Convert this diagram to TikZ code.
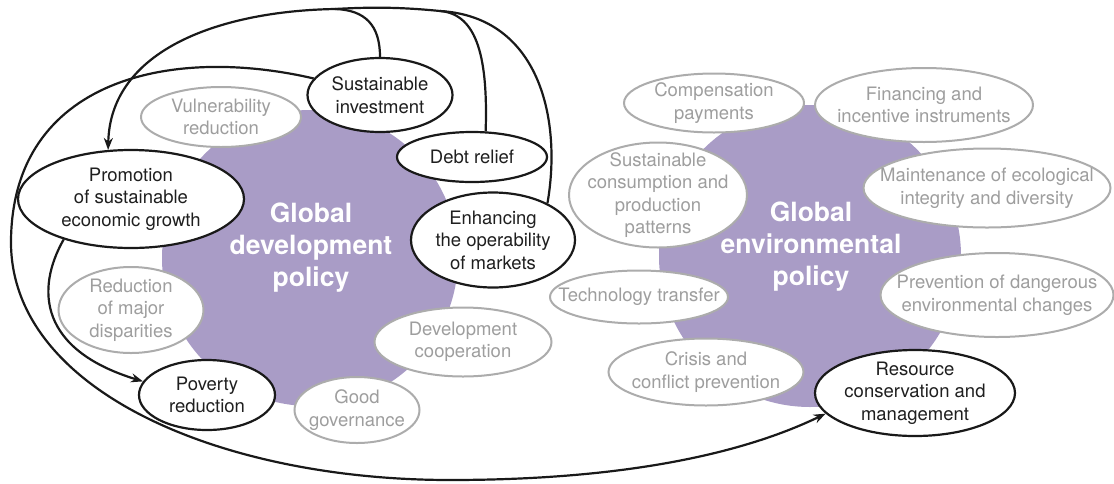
\documentclass[tikz,border=0pt]{standalone}
\usepackage{fontspec}
\setmainfont{TeX Gyre Heros}
\usetikzlibrary{arrows.meta, shapes.geometric}

\definecolor{policyviolet}{RGB}{169,156,198}
\definecolor{aimgray}{RGB}{172,172,172}
\definecolor{aimtext}{RGB}{158,158,158}

\begin{document}
\begin{tikzpicture}[x=1pt, y=-1pt, >={Stealth[length=12pt, width=9pt]},
    tag/.style={align=center, font=\fontsize{18.5}{22.5}\selectfont},
    goal/.style={ellipse, draw=black!90, line width=2.2pt, fill=white, inner sep=0pt,
      label={[tag, text=black!88]center:{#1}}},
    aim/.style={ellipse, draw=aimgray, line width=2pt, fill=white, inner sep=0pt,
      label={[tag, text=aimtext]center:{#1}}},
    title/.style={align=center, text=white, font=\fontsize{26.5}{32}\selectfont\bfseries},
    link/.style={line width=2.2pt, black!90}]
    \useasboundingbox (0,0) rectangle (1114,483);

    % Policy areas
    \fill[policyviolet] (310,258) circle (148pt);
    \fill[policyviolet] (810,256) circle (151pt);
    \node[title] (dev) at (311,248) {Global\\development\\policy};
    \node[title] (env) at (811,247) {Global\\environmental\\policy};

    % Development policy goals
    \node[goal={Sustainable\\investment}, minimum width=145, minimum height=74] (si) at (380,95) {};
    \node[goal={Debt relief}, minimum width=150, minimum height=50] (dr) at (472,157) {};
    \node[goal={Enhancing\\the operability\\of markets}, minimum width=164, minimum height=95] (mkt) at (493,240) {};
    \node[goal={Promotion\\of sustainable\\economic growth}, minimum width=226, minimum height=98] (prom) at (131,199) {};
    \node[goal={Poverty\\reduction}, minimum width=136, minimum height=70] (pov) at (207,395) {};
    \node[aim={Vulnerability\\reduction}, minimum width=160, minimum height=60] (vul) at (221,117) {};
    \node[aim={Reduction\\of major\\disparities}, minimum width=145, minimum height=86] (red) at (131,310) {};
    \node[aim={Good\\governance}, minimum width=125, minimum height=66] (gov) at (357,410) {};
    \node[aim={Development\\cooperation}, minimum width=177, minimum height=69] (coop) at (463,342) {};

    % Environmental policy goals
    \node[aim={Compensation\\payments}, minimum width=180, minimum height=59] (comp) at (714,103) {};
    \node[aim={Financing and\\incentive instruments}, minimum width=218, minimum height=74] (fin) at (924,105) {};
    \node[aim={Sustainable\\consumption and\\production\\patterns}, minimum width=178, minimum height=105] (scp) at (658,195) {};
    \node[aim={Maintenance of ecological\\integrity and diversity}, minimum width=247, minimum height=79] (eco) at (987,188) {};
    \node[aim={Technology transfer}, minimum width=178, minimum height=53] (tech) at (639,297) {};
    \node[aim={Prevention of dangerous\\environmental changes}, minimum width=233, minimum height=84] (prev) at (997,295) {};
    \node[aim={Crisis and\\conflict prevention}, minimum width=195, minimum height=67] (cris) at (706,372) {};
    \node[goal={Resource\\conservation and\\management}, minimum width=200, minimum height=86] (res) at (915,393) {};

    % Links into economic growth
    \coordinate (j1) at (335,9);
    \coordinate (j2) at (440,11);
    \draw[link, ->] (mkt.34) .. controls (562,120) and (540,17) .. (j2)
      .. controls (400,7) and (370,7) .. (j1)
      .. controls (220,11) and (110,50) .. (prom.115);
    \draw[link] (dr.62) .. controls (488,60) and (478,14) .. (j2);
    \draw[link] (si.north) .. controls (380,25) and (365,10) .. (j1);

    % Growth to poverty reduction
    \draw[link, ->] (prom.211) .. controls (35,290) and (40,350) .. (pov.168);

    % Investment to resource conservation
    \coordinate (w) at (11,240);
    \draw[link, ->] (si.166) .. controls (170,45) and (13,80) .. (w)
      .. controls (9,390) and (220,480) .. (450,480)
      .. controls (620,480) and (740,455) .. (res.193);
\end{tikzpicture}
\end{document}
